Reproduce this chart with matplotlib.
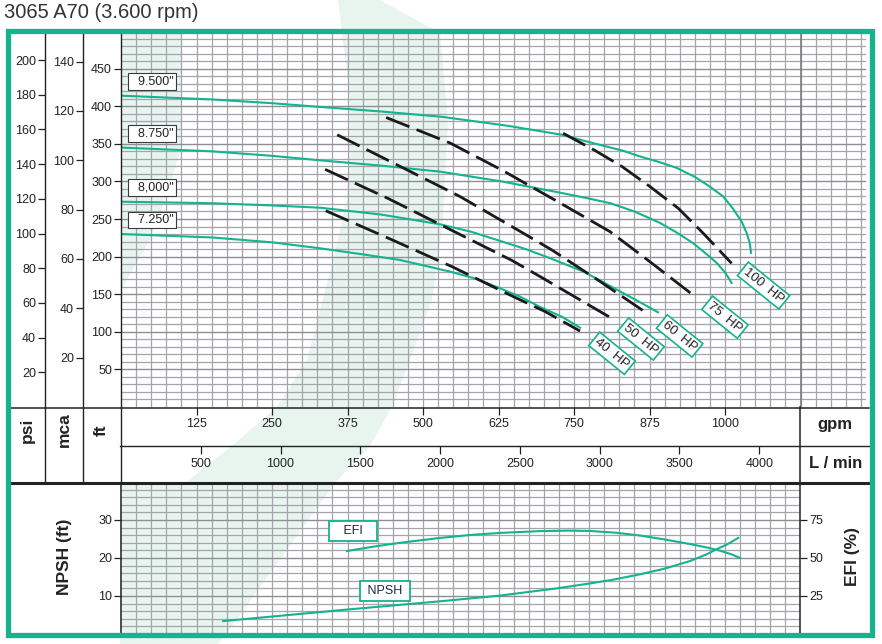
import matplotlib
matplotlib.use('Agg')
import matplotlib.pyplot as plt
import numpy as np
from matplotlib.lines import Line2D
from matplotlib.patches import Polygon, Rectangle

plt.rcParams['font.family'] = ['Liberation Sans', 'DejaVu Sans']

# ---------------- data (gpm / ft) ----------------
diam_labels = ['9.500"', '8.750"', '8,000"', '7.250"']
q_950 = [0, 150, 250, 330, 430, 530, 640, 730, 781, 830, 860, 890, 920, 950, 975, 997, 1013, 1028, 1036, 1041, 1043]
h_950 = [414, 409, 404, 399, 393, 386, 374, 362, 351, 341, 333, 326, 318, 306, 293, 280, 264, 246, 231, 218, 205]
q_875 = [0, 150, 250, 330, 430, 528, 630, 727, 770, 810, 850, 892, 920, 947, 970, 987, 1000, 1011]
h_875 = [345, 340, 334, 328, 321, 313, 300, 285, 278, 271, 260, 245, 232, 218, 203, 191, 179, 165]
q_800 = [0, 150, 250, 330, 430, 528, 580, 627, 670, 710, 766, 821, 860, 889]
h_800 = [273, 271, 268, 265, 256, 243, 233, 221, 210, 198, 180, 156, 139, 126]
q_725 = [0, 150, 250, 330, 400, 462, 545, 590, 627, 660, 694, 730, 760]
h_725 = [230, 225.5, 219, 211, 203, 195.5, 180, 170, 158, 147, 133, 120, 105.5]

hp_labels = ['40  HP', '50  HP', '60  HP', '75  HP', '100  HP']
q_40 = [339, 444, 547, 649, 702, 760]
h_40 = [261, 224, 187, 147, 127, 101]
q_50 = [338, 443, 545, 647, 697, 746, 808]
h_50 = [316, 277, 236, 195, 172, 149, 120]
q_60 = [358, 462, 561, 662, 713, 793, 872]
h_60 = [362, 320, 280, 233, 209, 167, 124]
q_75 = [439, 545, 633, 732, 810, 876, 947]
h_75 = [385, 351, 314, 269, 233, 193, 149]
q_100 = [732, 785, 829, 876, 923, 964, 1011]
h_100 = [364, 341, 320, 293, 264, 231, 191]

npsh_q = [169, 379, 528, 627, 721, 776, 815, 859, 900, 942, 970, 986, 1005, 1022]
npsh_ft = [3.4, 6.5, 8.6, 10.1, 12.0, 13.3, 14.3, 15.7, 17.2, 19.2, 21.0, 22.3, 23.7, 25.3]
efi_q = [374, 420, 462, 528, 580, 627, 694, 740, 776, 820, 859, 900, 942, 970, 992, 1010, 1025]
efi_pct = [54.6, 57.6, 60.0, 63.2, 65.2, 66.5, 67.7, 68.0, 67.8, 66.6, 64.8, 62.2, 59.2, 56.9, 54.8, 52.5, 50.0]

gpm_ticks = [125, 250, 375, 500, 625, 750, 875, 1000]
lpm_ticks = [500, 1000, 1500, 2000, 2500, 3000, 3500, 4000]
ft_ticks = [50, 100, 150, 200, 250, 300, 350, 400, 450]
mca_ticks = [20, 40, 60, 80, 100, 120, 140]
psi_ticks = [20, 40, 60, 80, 100, 120, 140, 160, 180, 200]
npsh_ticks = [10, 20, 30]
efi_ticks = [25, 50, 75]

# ---------------- layout helpers (pixels) ----------------
W, H = 882, 644
TEAL = '#15b38f'
GRID = '#a4a4ac'
INK = '#222222'
PALE = '#e8f5ef'

fig = plt.figure(figsize=(W / 100, H / 100), dpi=100)


def fx(px):
    return px / W


def fy(py):
    return 1 - py / H


def box(x0, y0, x1, y1):
    return [fx(x0), fy(y1), (x1 - x0) / W, (y1 - y0) / H]


def fline(xs, ys, **kw):
    fig.add_artist(Line2D([fx(x) for x in xs], [fy(y) for y in ys],
                          transform=fig.transFigure, **kw))


GPM_MAX = (866 - 121) / 0.604
FT_MAX = (407 - 33) / 0.752
GPM_MAX_B = (800 - 121) / 0.604
NPSH_MAX = (634 - 483) / 3.8

# pale watermark swoosh
band = [(380, 0), (440, 33), (448, 120), (443, 220), (432, 300), (410, 360), (392, 407),
        (370, 446), (335, 483), (227, 633), (218, 644), (120, 644), (120, 483),
        (185, 483), (232, 446), (277, 407), (307, 360), (333, 260), (347, 200),
        (350, 100), (338, 0)]
fig.add_artist(Polygon([(fx(x), fy(y)) for x, y in band], closed=True, transform=fig.transFigure,
                       facecolor=PALE, edgecolor='none', zorder=-2))
corner = [(121, 33), (182, 33), (181, 150), (168, 190), (150, 240), (121, 290)]
fig.add_artist(Polygon([(fx(x), fy(y)) for x, y in corner], closed=True, transform=fig.transFigure,
                       facecolor=PALE, edgecolor='none', zorder=-2))

# ---------------- top chart ----------------
ax = fig.add_axes(box(121, 33, 866, 407))
ax.set_facecolor('none')
ax.set_xlim(0, GPM_MAX)
ax.set_ylim(0, FT_MAX)
ax.set_xticks([])
ax.set_xticks(np.arange(25, GPM_MAX, 25), minor=True)
ax.set_yticks(ft_ticks)
ax.set_yticks(np.arange(10, FT_MAX, 10), minor=True)
ax.grid(which='minor', color=GRID, lw=0.9)
ax.grid(which='major', axis='y', color='#8e8e96', lw=1.0)
ax.tick_params(axis='y', which='major', direction='out', length=5, width=0.9,
               labelsize=9, pad=1.5, color=INK, labelcolor=INK)
ax.tick_params(which='minor', length=0)
ax.axvline(1125, color='#75757d', lw=1.1)
for s in ax.spines.values():
    s.set_visible(False)

curves = [(q_950, h_950), (q_875, h_875), (q_800, h_800), (q_725, h_725)]
for (q, h), lab in zip(curves, diam_labels):
    ax.plot(q, h, color=TEAL, lw=1.5, zorder=3, solid_joinstyle='round')
    ax.annotate('  ' + lab, xy=(q[0], h[0]), xytext=(22.3, 10.1), textcoords='offset points',
                ha='center', va='center', fontsize=9, color=INK, zorder=5,
                bbox=dict(boxstyle='square,pad=0.18', fc='white', ec='#3a3a3a', lw=0.8))

hp_lines = [(q_40, h_40), (q_50, h_50), (q_60, h_60), (q_75, h_75), (q_100, h_100)]
for (q, h), lab in zip(hp_lines, hp_labels):
    ax.plot(q, h, color='#1a1a1a', lw=2.0, dashes=(9, 2.8), zorder=4)
    ax.annotate(lab, xy=(q[-1], h[-1]), xytext=(23, -16), textcoords='offset points',
                ha='center', va='center', rotation=-39, rotation_mode='anchor',
                fontsize=9.5, color=INK, zorder=6,
                bbox=dict(boxstyle='square,pad=0.2', fc='white', ec=TEAL, lw=1.2))

# mca and psi scales
ax_m = fig.add_axes(box(83, 33, 121, 407))
ax_m.set_facecolor('none')
ax_m.set_ylim(0, FT_MAX / 3.2808)
ax_m.set_yticks(mca_ticks)
ax_m.set_xticks([])
ax_p = fig.add_axes(box(45, 33, 83, 407))
ax_p.set_facecolor('none')
ax_p.set_ylim(0, FT_MAX / 2.3067)
ax_p.set_yticks(psi_ticks)
ax_p.set_xticks([])
for a in (ax_m, ax_p):
    a.tick_params(axis='y', direction='out', length=5, width=0.9, labelsize=9, pad=1.5,
                  color=INK, labelcolor=INK)
    for s in a.spines.values():
        s.set_visible(False)

# ---------------- flow scale rows ----------------
ax_g = fig.add_axes(box(121, 407, 866, 446))
ax_g.set_xlim(0, GPM_MAX)
ax_l = fig.add_axes(box(121, 446, 866, 483))
ax_l.set_xlim(0, GPM_MAX * 3.7854)
for a, ticks, yl in ((ax_g, gpm_ticks, 0.56), (ax_l, lpm_ticks, 0.52)):
    a.set_facecolor('none')
    a.set_yticks([])
    a.set_xticks(ticks)
    a.tick_params(axis='x', direction='in', length=6, width=0.9, color=INK,
                  top=True, bottom=False, labeltop=False, labelbottom=False)
    for s in a.spines.values():
        s.set_visible(False)
    for t in ticks:
        a.text(t, yl, str(t), transform=a.get_xaxis_transform(), ha='center', va='center',
               fontsize=9, color=INK)

# ---------------- bottom chart ----------------
ax_b = fig.add_axes(box(121, 483, 800, 634))
ax_b.set_facecolor('none')
ax_b.set_xlim(0, GPM_MAX_B)
ax_b.set_ylim(0, NPSH_MAX)
ax_b.set_xticks([])
ax_b.set_xticks(np.arange(25, GPM_MAX_B, 25), minor=True)
ax_b.set_yticks(npsh_ticks)
ax_b.set_yticks(np.arange(2, NPSH_MAX, 2), minor=True)
ax_b.grid(which='minor', color=GRID, lw=0.9)
ax_b.grid(which='major', axis='y', color='#8e8e96', lw=1.0)
ax_b.tick_params(axis='y', which='major', direction='out', length=5, width=0.9,
                 labelsize=9, pad=1.5, color=INK, labelcolor=INK)
ax_b.tick_params(which='minor', length=0)
ax_b.plot(npsh_q, npsh_ft, color=TEAL, lw=1.5, zorder=3, solid_joinstyle='round')
ax_b.text(437, 11.3, ' NPSH ', ha='center', va='center', fontsize=9, color='#1b2748', zorder=5,
          bbox=dict(boxstyle='square,pad=0.3', fc='white', ec=TEAL, lw=1.3))
ax_b.text(384, 27.1, '   EFI   ', ha='center', va='center', fontsize=9, color='#1b2748', zorder=5,
          bbox=dict(boxstyle='square,pad=0.3', fc='white', ec=TEAL, lw=1.3))

ax_e = ax_b.twinx()
ax_e.set_ylim(0, NPSH_MAX * 2.5)
ax_e.set_yticks(efi_ticks)
ax_e.tick_params(axis='y', direction='out', length=5, width=0.9, labelsize=9, pad=1.5,
                 color=INK, labelcolor=INK)
ax_e.plot(efi_q, efi_pct, color=TEAL, lw=1.5, zorder=3, solid_joinstyle='round')
for a in (ax_b, ax_e):
    for s in a.spines.values():
        s.set_visible(False)

# ---------------- table lines, labels and frame ----------------
for x in (45, 83, 120.5):
    fline([x, x], [33, 483], color=INK, lw=1.0, zorder=5)
fline([10, 869], [407.5, 407.5], color=INK, lw=1.1, zorder=5)
fline([120, 869], [446, 446], color=INK, lw=1.0, zorder=5)
fline([10, 869], [483, 483], color=INK, lw=2.2, zorder=5)
fline([800, 800], [407, 634], color=INK, lw=1.1, zorder=5)
fline([120.5, 120.5], [483, 634], color=INK, lw=1.1, zorder=5)

for x, t in ((27, 'psi'), (64, 'mca'), (101, 'ft')):
    fig.text(fx(x), fy(430), t, rotation=90, ha='center', va='center',
             fontsize=12.5, fontweight='bold', color=INK)
fig.text(fx(835), fy(424), 'gpm', ha='center', va='center', fontsize=12, fontweight='bold', color=INK)
fig.text(fx(836), fy(464), 'L / min', ha='center', va='center', fontsize=12, fontweight='bold', color=INK)
fig.text(fx(64), fy(557), 'NPSH (ft)', rotation=90, ha='center', va='center',
         fontsize=12.5, fontweight='bold', color=INK)
fig.text(fx(853), fy(557), 'EFI (%)', rotation=90, ha='center', va='center',
         fontsize=12.5, fontweight='bold', color=INK)

fig.text(fx(4), fy(13), '3065 A70 (3.600 rpm)', ha='left', va='center', fontsize=14.5, color='#333333')

fig.add_artist(Rectangle((fx(7.5), fy(635)), fx(872) - fx(7.5), fy(31) - fy(635),
                         transform=fig.transFigure, fill=False, ec=TEAL, lw=3.8, zorder=10))

fig.savefig('out.png', dpi=100)
